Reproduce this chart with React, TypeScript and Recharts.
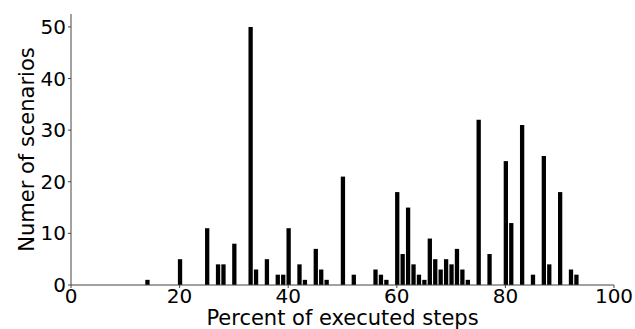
import React from "react";
import { BarChart, Bar, XAxis, YAxis } from "recharts";

const steps = [14, 20, 25, 27, 28, 30, 33, 34, 36, 38, 39, 40, 42, 43, 45, 46, 47, 50, 52, 56, 57, 58, 60, 61, 62, 63, 64, 65, 66, 67, 68, 69, 70, 71, 72, 73, 75, 77, 80, 81, 83, 85, 87, 88, 90, 92, 93];
const scenarios = [1, 5, 11, 4, 4, 8, 50, 3, 5, 2, 2, 11, 4, 1, 7, 3, 1, 21, 2, 3, 2, 1, 18, 6, 15, 4, 2, 1, 9, 5, 3, 5, 4, 7, 3, 1, 32, 6, 24, 12, 31, 2, 25, 4, 18, 3, 2];
const xTicks = [0, 20, 40, 60, 80, 100];
const yTicks = [0, 10, 20, 30, 40, 50];

const data = steps.map((s, i) => ({ step: s, count: scenarios[i] }));

const font = "'DejaVu Sans', sans-serif";
const axisColor = "#444";

export default function App() {
  return (
    <div style={{ position: "absolute", left: 0, top: 0, fontFamily: font }}>
      <BarChart
        width={635}
        height={329}
        data={data}
        margin={{ top: 14, right: 21, left: 0, bottom: 0 }}
        barCategoryGap={0}
      >
        <XAxis
          xAxisId="bottom"
          dataKey="step"
          type="number"
          domain={[0, 100]}
          ticks={xTicks}
          interval={0}
          height={44}
          tickSize={3}
          tickMargin={1}
          stroke={axisColor}
          tick={{ fill: "#000", fontSize: 20, fontFamily: font }}
          tickLine={{ stroke: axisColor }}
          axisLine={{ stroke: axisColor }}
          label={{
            value: "Percent of executed steps",
            position: "insideBottom",
            offset: 4,
            fill: "#000",
            fontSize: 21,
            fontFamily: font,
          }}
        />
        <XAxis
          xAxisId="top"
          orientation="top"
          dataKey="step"
          type="number"
          domain={[0, 100]}
          ticks={xTicks}
          height={0}
          tick={false}
          tickLine={false}
          axisLine={{ stroke: axisColor }}
        />
        <YAxis
          yAxisId="left"
          type="number"
          domain={[0, 52.5]}
          ticks={yTicks}
          interval={0}
          width={71}
          tickSize={3}
          tickMargin={2}
          tick={{ fill: "#000", fontSize: 20, fontFamily: font }}
          tickLine={{ stroke: axisColor }}
          axisLine={{ stroke: axisColor }}
          label={{
            value: "Numer of scenarios",
            angle: -90,
            position: "insideLeft",
            offset: 27,
            style: { textAnchor: "middle" },
            fill: "#000",
            fontSize: 21,
            fontFamily: font,
          }}
        />
        <YAxis
          yAxisId="right"
          orientation="right"
          type="number"
          domain={[0, 52.5]}
          width={0}
          tick={false}
          tickLine={false}
          axisLine={{ stroke: axisColor }}
        />
        <Bar
          xAxisId="bottom"
          yAxisId="left"
          dataKey="count"
          fill="#000"
          barSize={4.3}
          isAnimationActive={false}
        />
      </BarChart>
    </div>
  );
}
